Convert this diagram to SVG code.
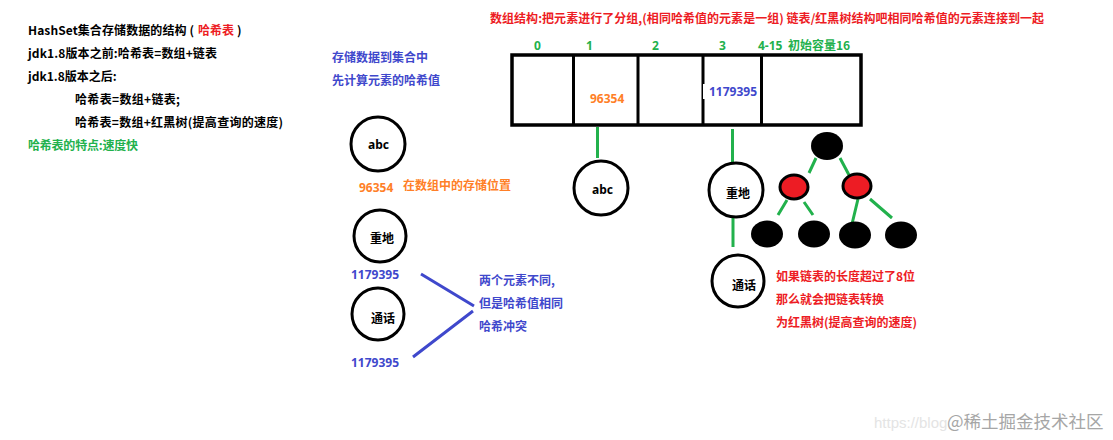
<svg xmlns="http://www.w3.org/2000/svg" width="1113" height="440" viewBox="0 0 1113 440">
<style>
text{font-family:"Noto Sans CJK SC","Noto Sans",sans-serif;font-size:12px;font-weight:700;fill:#000}
.r{fill:#ed1c24}.g{fill:#22b14c}.b{fill:#3f48cc}.o{fill:#ff7f27}
.n{font-family:"Noto Sans","Noto Sans CJK SC",sans-serif;font-size:12px}
.c{fill:#fff;stroke:#000;stroke-width:3}
.k{fill:#000}
.rd{fill:#ed1c24;stroke:#000;stroke-width:3}
.gl{stroke:#22b14c;stroke-width:3;fill:none}
.bl{stroke:#3f48cc;stroke-width:3;fill:none}
</style>
<rect width="1113" height="440" fill="#fff"/>
<g id="notes">
<text x="28" y="35" textLength="166">HashSet集合存储数据的结构 (</text><text x="198" y="35" class="r" textLength="36">哈希表</text><text x="237" y="35">)</text>
<text x="28" y="58" textLength="189">jdk1.8版本之前:哈希表=数组+链表</text>
<text x="28" y="81">jdk1.8版本之后:</text>
<text x="75" y="104" textLength="105">哈希表=数组+链表;</text>
<text x="75" y="127" textLength="208">哈希表=数组+红黑树(提高查询的速度)</text>
<text x="28" y="150" class="g" textLength="110">哈希表的特点:速度快</text>
<text x="332" y="62" class="b">存储数据到集合中</text>
<text x="332" y="85" class="b">先计算元素的哈希值</text>
<text x="490" y="23" class="r" textLength="554">数组结构:把元素进行了分组,(相同哈希值的元素是一组) 链表/红黑树结构吧相同哈希值的元素连接到一起</text>
<text x="403" y="190" class="o">在数组中的存储位置</text>
<text x="359" y="192" class="o n">96354</text>
<text x="351" y="279" class="b n">1179395</text>
<text x="351" y="367" class="b n">1179395</text>
<text x="479" y="285" class="b">两个元素不同,</text>
<text x="479" y="308" class="b">但是哈希值相同</text>
<text x="479" y="331" class="b">哈希冲突</text>
<text x="776" y="281" class="r">如果链表的长度超过了8位</text>
<text x="776" y="304" class="r">那么就会把链表转换</text>
<text x="776" y="327" class="r">为红黑树(提高查询的速度)</text>
</g>
<g id="array">
<rect x="512" y="55" width="349" height="70" fill="#fff" stroke="#000" stroke-width="3.5"/>
<path d="M573.5 55V125M638 55V125M703 55V125M761.5 55V125" stroke="#000" stroke-width="3" fill="none"/>
<rect x="703" y="84" width="2" height="15" fill="#fff"/>
<text x="534" y="50" class="g n">0</text>
<text x="586" y="50" class="g n">1</text>
<text x="652" y="50" class="g n">2</text>
<text x="719" y="50" class="g n">3</text>
<text x="758" y="50" class="g n">4-15</text>
<text x="788" y="50" class="g">初始容量16</text>
<text x="590" y="103" class="o n">96354</text>
<text x="709" y="96" class="b n">1179395</text>
</g>
<g id="connectors">
<path class="gl" d="M597.5 127V158M732.5 129V163M733 217V247M816 158L809 173M840 158L849 175M787 200L778 215M804 202L813 215M858 199L852 224M870 199L892 218"/>
<path class="bl" d="M421 274L474 306M413 357L473 311"/>
</g>
<g id="n-abc1"><circle class="c" cx="378" cy="144" r="27"/><text x="368" y="149" class="n">abc</text></g>
<g id="n-zd1"><circle class="c" cx="380" cy="236" r="26"/><text x="370" y="243">重地</text></g>
<g id="n-th1"><circle class="c" cx="378" cy="314" r="26"/><text x="371" y="323">通话</text></g>
<g id="n-abc2"><circle class="c" cx="601" cy="188" r="27"/><text x="592" y="194" class="n">abc</text></g>
<g id="n-zd2"><circle class="c" cx="736" cy="190" r="27"/><text x="726" y="198">重地</text></g>
<g id="n-th2"><circle class="c" cx="738" cy="281" r="26"/><text x="732" y="290">通话</text></g>
<g id="t0"><ellipse class="k" cx="827" cy="146" rx="16" ry="14"/></g>
<g id="t1"><ellipse class="rd" cx="794" cy="187" rx="14" ry="12"/></g>
<g id="t2"><ellipse class="rd" cx="857" cy="186" rx="14" ry="12"/></g>
<g id="t3"><ellipse class="k" cx="767" cy="234" rx="16" ry="13.5"/></g>
<g id="t4"><ellipse class="k" cx="814" cy="234" rx="16" ry="13.5"/></g>
<g id="t5"><ellipse class="k" cx="855" cy="235" rx="16" ry="13.5"/></g>
<g id="t6"><ellipse class="k" cx="901" cy="235" rx="16" ry="13.5"/></g>
<g id="watermark">
<text x="874" y="428" style="font-family:'Liberation Sans',sans-serif;font-size:15px;font-weight:400;fill:#e4e4e4">https://blog</text>
<text x="947" y="428" style="font-size:17.5px;font-weight:400;fill:#a6a6a6">@稀土掘金技术社区</text>
</g>
</svg>
